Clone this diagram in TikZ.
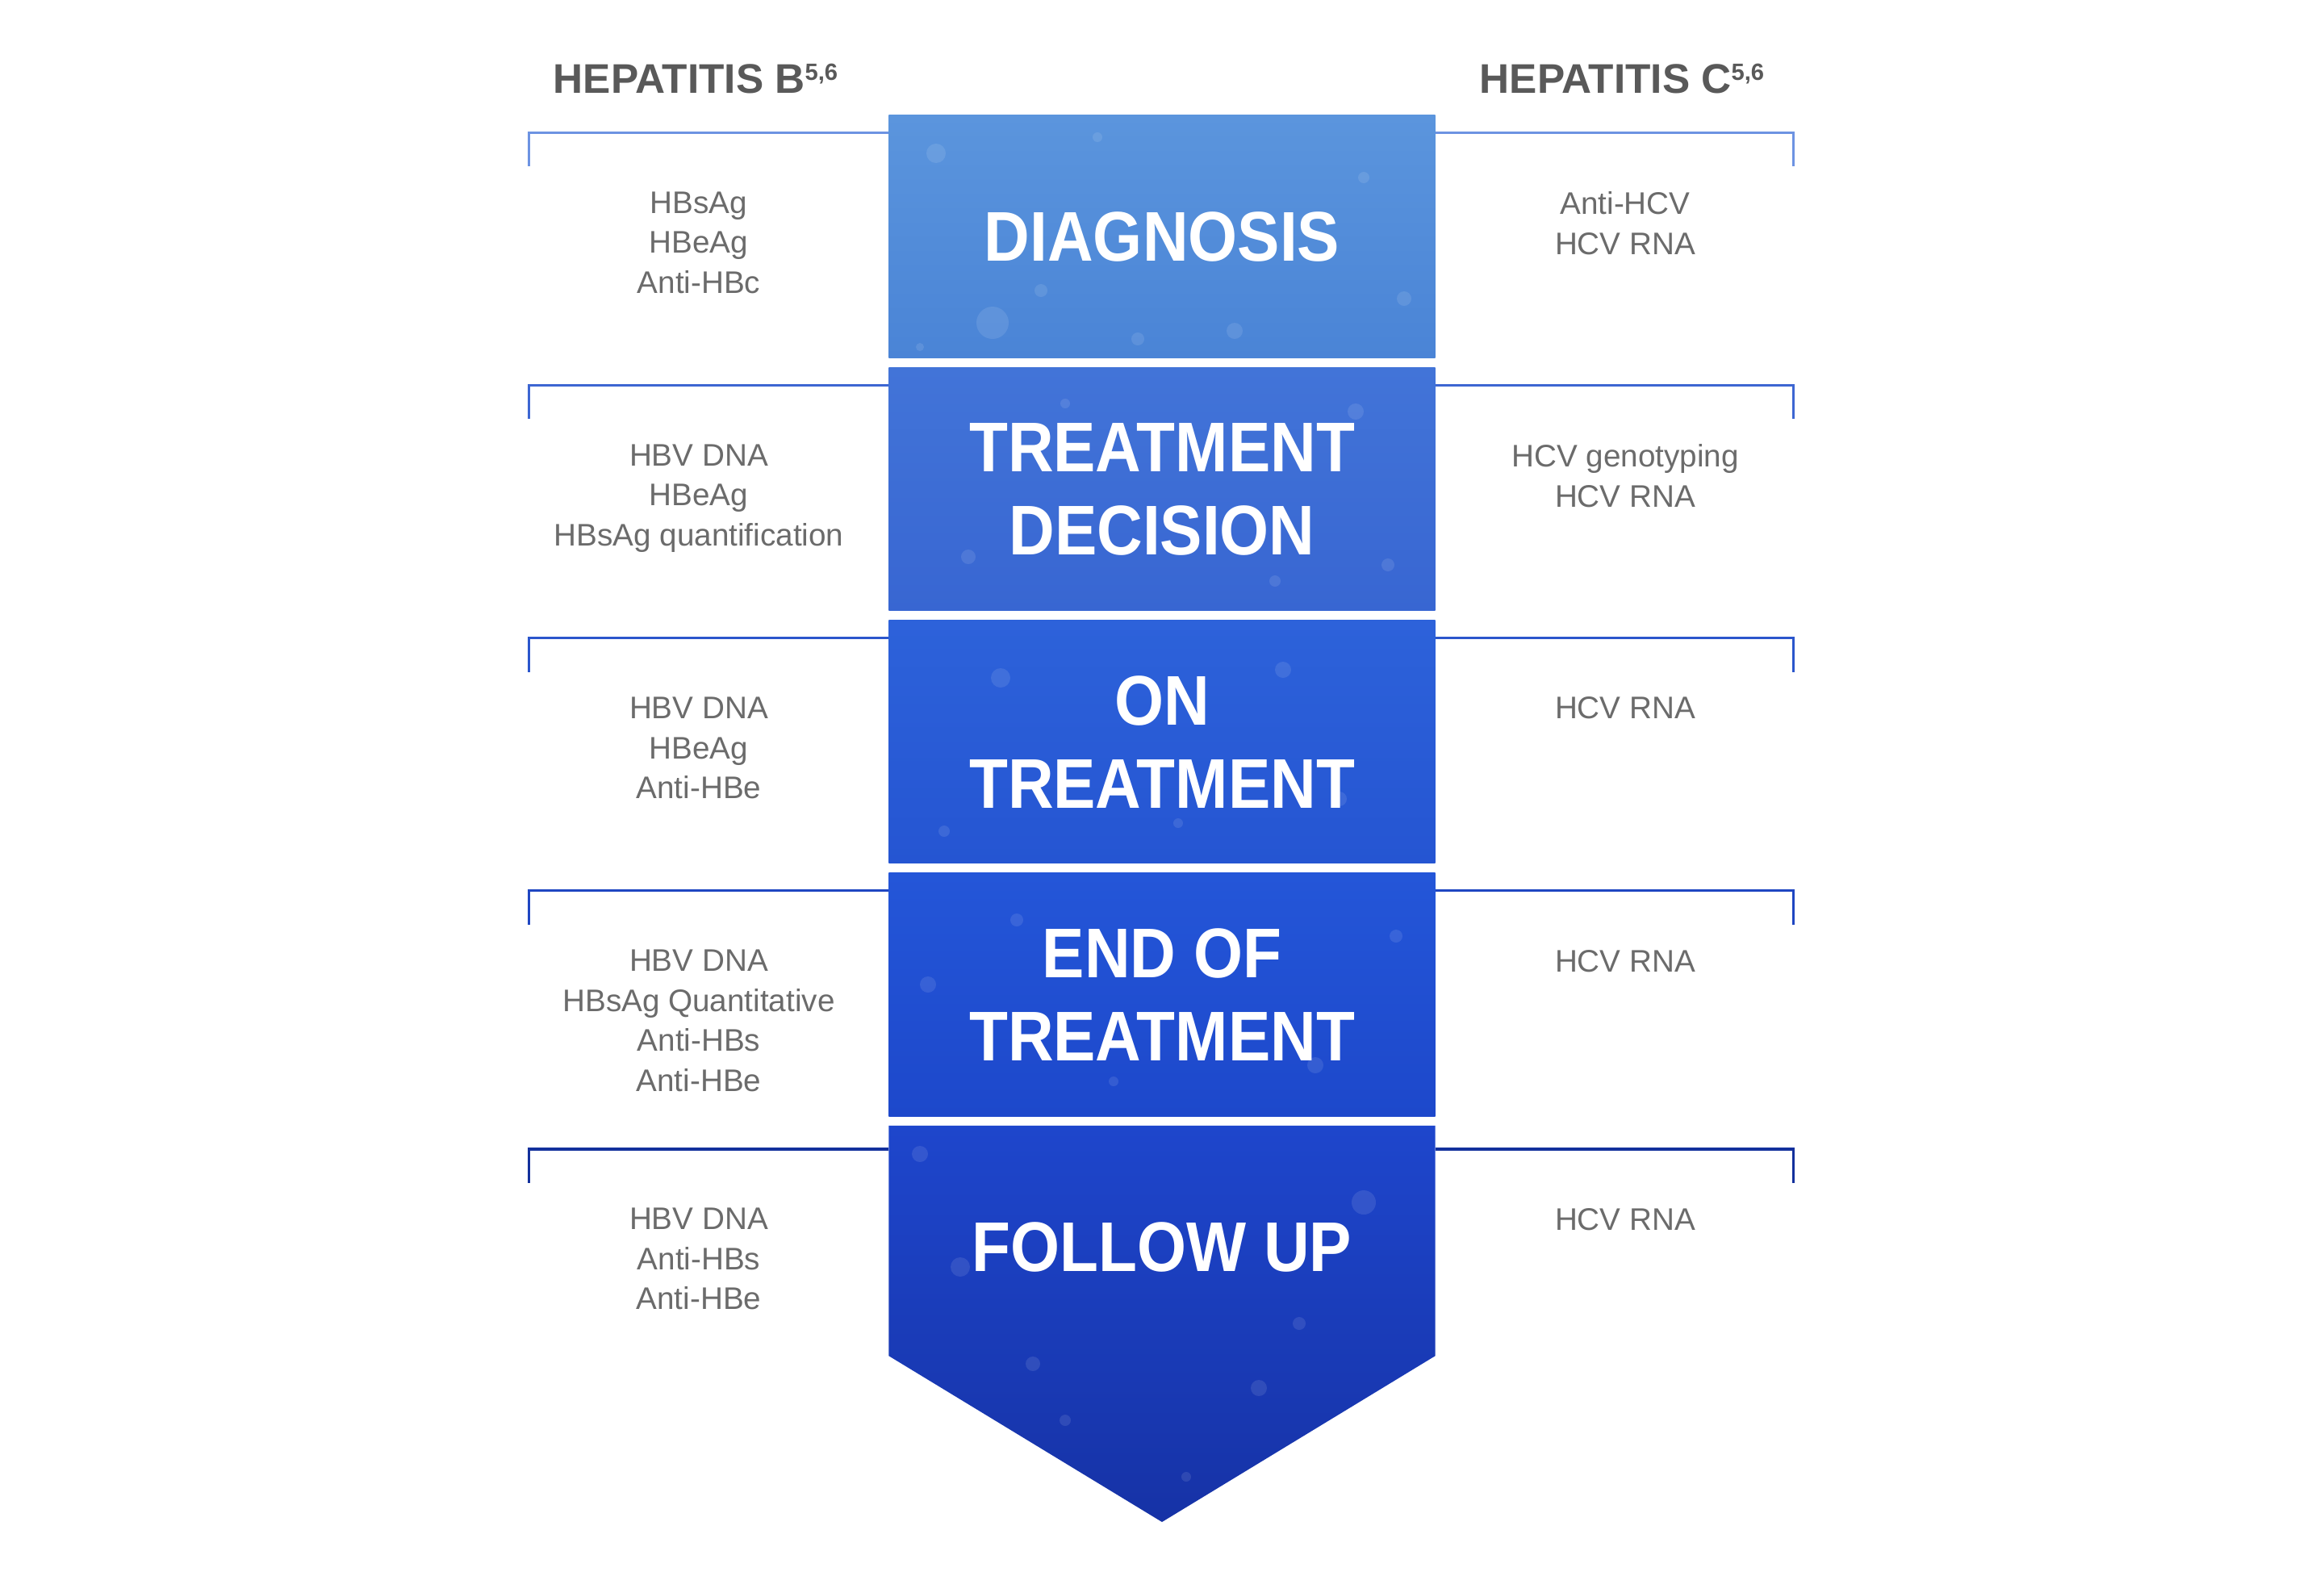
\documentclass[tikz,border=0pt]{standalone}
\usepackage{fontspec}
\setmainfont{Liberation Sans}
\newfontfamily\stagefont[FakeStretch=0.9]{Liberation Sans}
\usepackage{tikz}
\usetikzlibrary{positioning,calc,backgrounds}

\definecolor{headgray}{HTML}{595959}
\definecolor{testgray}{HTML}{6B6B6B}
% stage fills, light to dark
\definecolor{stageAt}{HTML}{5B95DD}
\definecolor{stageAb}{HTML}{4A84D6}
\definecolor{stageBt}{HTML}{4274D8}
\definecolor{stageBb}{HTML}{3866D2}
\definecolor{stageCt}{HTML}{2D62DA}
\definecolor{stageCb}{HTML}{2555D2}
\definecolor{stageDt}{HTML}{2456D8}
\definecolor{stageDb}{HTML}{1D48CB}
\definecolor{stageEt}{HTML}{1E46CC}
\definecolor{stageEb}{HTML}{1632A6}
% bracket lines
\definecolor{lineA}{HTML}{6D93E2}
\definecolor{lineB}{HTML}{3D66D2}
\definecolor{lineC}{HTML}{2B56CC}
\definecolor{lineD}{HTML}{1F46C2}
\definecolor{lineE}{HTML}{13309C}

\newcommand{\refmark}[1]{\raisebox{4.6pt}{\fontsize{8.3}{9}\selectfont #1}}

\tikzset{
    stagebox/.style={rectangle,minimum width=6.76cm,minimum height=3cm,inner sep=0pt,
        text=white,align=center,font=\stagefont\bfseries\fontsize{24.8}{29.4}\selectfont},
    tests/.style={anchor=north,inner sep=0pt,align=center,text=testgray,
        font=\fontsize{11}{14.1}\selectfont},
    hepa/.style={anchor=base,inner sep=0pt,text=headgray,
        font=\bfseries\fontsize{14.6}{17}\selectfont},
    bracket/.style={line width=1pt},
    bokeh/.style={fill=white,opacity=0.1}
}

\begin{document}
\begin{tikzpicture}
    \useasboundingbox (0,0) rectangle (28.8,-19.47);

    % headings
    \node[hepa] (hepb) at (8.62,-1.155) {HEPATITIS B\refmark{5,6}};
    \node[hepa] (hepc) at (20.10,-1.155) {HEPATITIS C\refmark{5,6}};

    % the five stages
    \node[stagebox] (s1) at (14.40,-2.93) {DIAGNOSIS};
    \node[stagebox,below=0.117cm of s1] (s2) {TREATMENT\\DECISION};
    \node[stagebox,below=0.117cm of s2] (s3) {ON\\TREATMENT};
    \node[stagebox,below=0.117cm of s3] (s4) {END OF\\TREATMENT};
    \node[stagebox,below=0.117cm of s4,yshift=-0.07cm,minimum height=2.86cm] (s5) {FOLLOW UP};
    \coordinate (tip) at (14.40,-18.86);
    \begin{scope}[on background layer]
        \foreach \s/\t/\b in {s1/stageAt/stageAb,s2/stageBt/stageBb,s3/stageCt/stageCb,s4/stageDt/stageDb}
            \shade[top color=\t,bottom color=\b] (\s.north west) rectangle (\s.south east);
        \shade[top color=stageEt,bottom color=stageEb]
            ($(s5.north west)+(0,0.07)$) -- ($(s5.north east)+(0,0.07)$) -- ($(s5.south east)+(0,0.09)$)
            -- (tip) -- ($(s5.south west)+(0,0.09)$) -- cycle;
        % a few soft spots for the texture
        \foreach \x/\y/\r in {11.6/-1.9/0.12,12.9/-3.6/0.08,15.3/-4.1/0.1,16.9/-2.2/0.07,12.3/-4.0/0.2,
                           13.6/-1.7/0.06,14.1/-4.2/0.08,17.4/-3.7/0.09,11.4/-4.3/0.05,
                           16.8/-5.1/0.1,12.0/-6.9/0.09,17.2/-7.0/0.08,13.2/-5.0/0.06,15.8/-7.2/0.07,
                           15.9/-8.3/0.1,11.7/-10.3/0.07,16.6/-9.9/0.09,12.4/-8.4/0.12,14.6/-10.2/0.06,
                           12.6/-11.4/0.08,16.3/-13.2/0.1,13.8/-13.4/0.06,11.5/-12.2/0.1,17.3/-11.6/0.08,
                           11.4/-14.3/0.1,16.9/-14.9/0.15,12.8/-16.9/0.09,15.6/-17.2/0.1,
                           11.9/-15.7/0.12,13.2/-17.6/0.07,16.1/-16.4/0.08,14.7/-18.3/0.06}
            \fill[bokeh] (\x,\y) circle (\r);
    \end{scope}

    % brackets
    \foreach \s/\c in {s1/lineA,s2/lineB,s3/lineC,s4/lineD,s5/lineE}{
        \draw[bracket,\c] ($(\s.north west)+(0,-0.22)$) -- ++(-4.46,0) -- ++(0,-0.42);
        \draw[bracket,\c] ($(\s.north east)+(0,-0.22)$) -- ++(4.44,0) -- ++(0,-0.42);
    }

    % hepatitis B tests
    \node[tests] (b1) at ($(s1.north)+(-5.74,-0.947)$) {HBsAg\\HBeAg\\Anti-HBc};
    \node[tests] (b2) at ($(s2.north)+(-5.74,-0.947)$) {HBV DNA\\HBeAg\\HBsAg quantification};
    \node[tests] (b3) at ($(s3.north)+(-5.74,-0.947)$) {HBV DNA\\HBeAg\\Anti-HBe};
    \node[tests] (b4) at ($(s4.north)+(-5.74,-0.947)$) {HBV DNA\\HBsAg Quantitative\\Anti-HBs\\Anti-HBe};
    \node[tests] (b5) at ($(s5.north)+(-5.74,-0.947)$) {HBV DNA\\Anti-HBs\\Anti-HBe};

    % hepatitis C tests
    \node[tests] (c1) at ($(s1.north)+(5.74,-0.947)$) {Anti-HCV\\HCV RNA};
    \node[tests] (c2) at ($(s2.north)+(5.74,-0.947)$) {HCV genotyping\\HCV RNA};
    \node[tests] (c3) at ($(s3.north)+(5.74,-0.947)$) {HCV RNA};
    \node[tests] (c4) at ($(s4.north)+(5.74,-0.947)$) {HCV RNA};
    \node[tests] (c5) at ($(s5.north)+(5.74,-0.947)$) {HCV RNA};
\end{tikzpicture}
\end{document}
